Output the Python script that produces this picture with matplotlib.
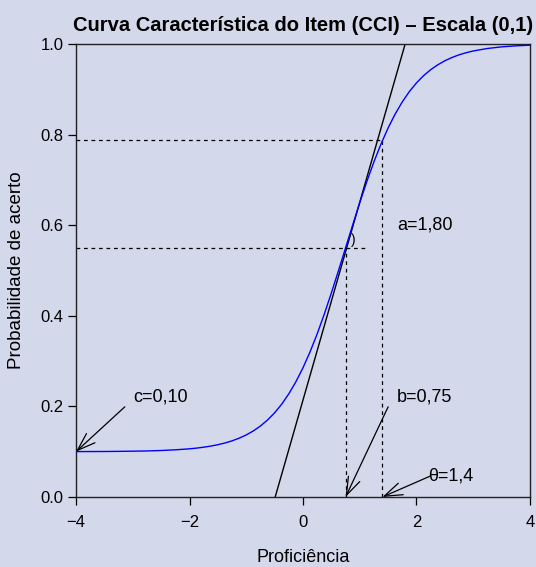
import matplotlib
matplotlib.use("Agg")
import matplotlib.pyplot as plt

plt.rcParams["font.family"] = ["Liberation Sans", "DejaVu Sans"]

BG = "#d3d8ea"

# ICC (a=1.80, b=0.75, c=0.10)
theta = [-4.0, -3.75, -3.5, -3.25, -3.0, -2.75, -2.5, -2.25, -2.0,
         -1.875, -1.75, -1.625, -1.5, -1.375, -1.25, -1.125, -1.0,
         -0.875, -0.75, -0.625, -0.5, -0.375, -0.25, -0.125, 0.0,
         0.125, 0.25, 0.375, 0.5, 0.625, 0.75, 0.875, 1.0,
         1.125, 1.25, 1.375, 1.5, 1.625, 1.75, 1.875, 2.0,
         2.125, 2.25, 2.375, 2.5, 2.625, 2.75, 2.875, 3.0,
         3.25, 3.5, 3.75, 4.0]
prob = [0.1002, 0.1003, 0.1004, 0.1007, 0.1011, 0.1016, 0.1026, 0.1041, 0.1063,
        0.1079, 0.1099, 0.1123, 0.1154, 0.1192, 0.1239, 0.1298, 0.1370,
        0.1458, 0.1567, 0.1699, 0.1858, 0.2049, 0.2277, 0.2544, 0.2853,
        0.3206, 0.3601, 0.4036, 0.4505, 0.4996, 0.5500, 0.6004, 0.6496,
        0.6964, 0.7399, 0.7794, 0.8147, 0.8456, 0.8723, 0.8951, 0.9142,
        0.9301, 0.9433, 0.9541, 0.9630, 0.9702, 0.9761, 0.9808, 0.9846,
        0.9901, 0.9937, 0.9959, 0.9974]

tangent_x = [-0.49, 1.80]
tangent_y = [0.0, 1.0]

b_val, p_b = 0.75, 0.55
th_val, p_th = 1.4, 0.787
c_val = 0.10

xticks = [-4, -2, 0, 2, 4]
yticks = [0.0, 0.2, 0.4, 0.6, 0.8, 1.0]

fig = plt.figure(figsize=(5.36, 5.67), dpi=100, facecolor=BG)
ax = fig.add_axes([0.1418, 0.1235, 0.8470, 0.7989], facecolor=BG)

ax.plot(theta, prob, color="#0000ff", lw=1.0, zorder=3)
ax.plot(tangent_x, tangent_y, color="black", lw=1.0, zorder=2)

dash = dict(color="black", lw=0.9, ls=(0, (3, 3)))
ax.plot([-4, 1.11], [p_b, p_b], **dash)
ax.plot([b_val, b_val], [0, p_b], **dash)
ax.plot([-4, th_val], [p_th, p_th], **dash)
ax.plot([th_val, th_val], [0, p_th], **dash)

ax.text(0.84, 0.567, ")", fontsize=10, va="center", ha="left")
ax.text(1.66, 0.60, "a=1,80", fontsize=13, va="center", ha="left")

arw = dict(arrowstyle="->,head_length=1.3,head_width=0.45", color="black", lw=0.9,
           shrinkA=0, shrinkB=0)
ax.annotate("", xy=(b_val, 0), xytext=(1.50, 0.199), arrowprops=arw)
ax.text(1.66, 0.22, "b=0,75", fontsize=13, va="center", ha="left")
ax.annotate("", xy=(th_val, 0), xytext=(2.24, 0.046), arrowprops=arw)
ax.text(2.20, 0.046, "θ=1,4", fontsize=13, va="center", ha="left")
ax.annotate("", xy=(-4, c_val), xytext=(-3.14, 0.199), arrowprops=arw)
ax.text(-3.0, 0.22, "c=0,10", fontsize=13, va="center", ha="left")

ax.set_xlim(-4, 4)
ax.set_ylim(0, 1)
ax.set_xticks(xticks)
ax.set_yticks(yticks)
ax.set_yticklabels([f"{v:.1f}" for v in yticks])
ax.tick_params(direction="out", length=6, width=0.9, labelsize=12, pad=3)
ax.tick_params(axis="x", pad=7)
for s in ax.spines.values():
    s.set_linewidth(1.0)
    s.set_color("#222222")

ax.set_xlabel("Proficiência", fontsize=13, labelpad=14)
ax.set_ylabel("Probabilidade de acerto", fontsize=13.5, labelpad=11)
ax.set_title("Curva Característica do Item (CCI) – Escala (0,1)", fontsize=14.5,
             fontweight="bold", pad=9)

fig.savefig("out.png", dpi=100, facecolor=BG)
